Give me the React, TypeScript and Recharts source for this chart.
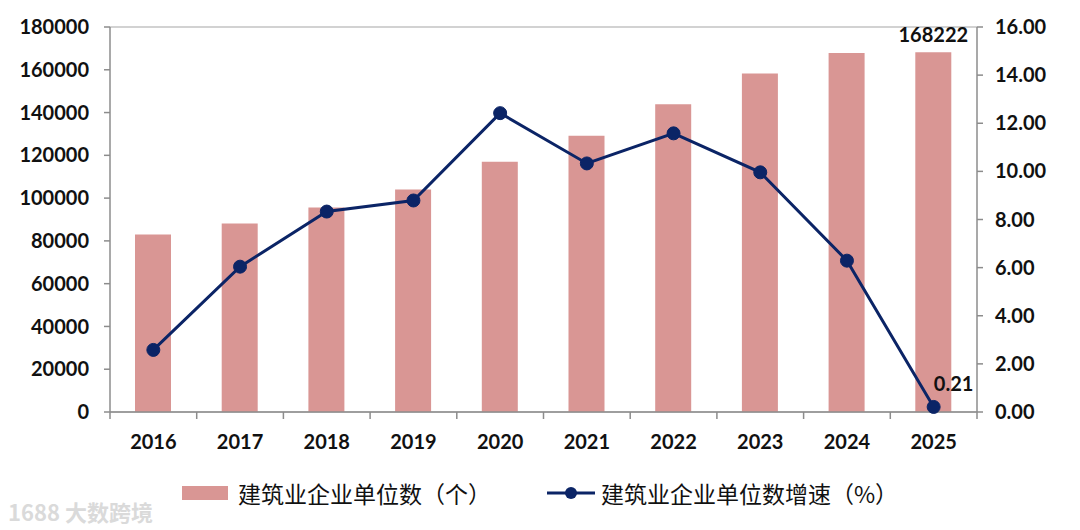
import React from 'react';
import { ComposedChart, Bar, Line, XAxis, YAxis, CartesianGrid, Legend, LabelList } from 'recharts';

const years = ['2016', '2017', '2018', '2019', '2020', '2021', '2022', '2023', '2024', '2025'];
const unitCounts = [83000, 88100, 95600, 104000, 117000, 129100, 143900, 158300, 167870, 168222];
const growthRates = [2.58, 6.04, 8.33, 8.79, 12.42, 10.33, 11.58, 9.96, 6.29, 0.21];
const leftTicks = [0, 20000, 40000, 60000, 80000, 100000, 120000, 140000, 160000, 180000];
const rightTicks = [0, 2, 4, 6, 8, 10, 12, 14, 16];

const barName = '建筑业企业单位数（个）';
const lineName = '建筑业企业单位数增速（%）';

const BAR_COLOR = '#D99694';
const LINE_COLOR = '#0B2466';
const AXIS_COLOR = '#8C8C8C';
const TICK_FONT = 'Lato, Carlito, Calibri, sans-serif';

const data = years.map((year, i) => ({
  year,
  count: unitCounts[i],
  rate: growthRates[i],
}));

const XTick = (props: any) => {
  const { x, y, payload, index } = props;
  const half = 867 / years.length / 2;
  return (
    <g>
      <line x1={x - half} y1={y - 8} x2={x - half} y2={y - 1} stroke={AXIS_COLOR} strokeWidth={1.5} />
      {index === years.length - 1 && (
        <line x1={x + half} y1={y - 8} x2={x + half} y2={y - 1} stroke={AXIS_COLOR} strokeWidth={1.5} />
      )}
      <text x={x} y={y + 29} textAnchor="middle" fill="#111" fontSize={20} fontWeight={700} fontFamily={TICK_FONT}>
        {payload.value}
      </text>
    </g>
  );
};

const LastLabel = (props: any) => {
  const { x, y, width, value, index, kind } = props;
  if (index !== years.length - 1) return null;
  if (kind === 'bar') {
    return (
      <text x={x + width / 2} y={y - 10} textAnchor="middle" fill="#111" fontSize={20} fontWeight={700} fontFamily={TICK_FONT}>
        {value}
      </text>
    );
  }
  return (
    <text x={x + 20} y={y - 16} textAnchor="middle" fill="#111" fontSize={20} fontWeight={700} fontFamily={TICK_FONT}>
      {Number(value).toFixed(2)}
    </text>
  );
};

const LegendContent = () => (
  <div style={{ display: 'flex', justifyContent: 'center', alignItems: 'center', gap: 56, fontFamily: '"Noto Sans CJK SC", sans-serif', fontSize: 23, color: '#111', paddingLeft: 0 }}>
    <div style={{ display: 'flex', alignItems: 'center' }}>
      <svg width={48} height={16} style={{ marginRight: 8 }}>
        <rect x={0} y={1} width={46} height={14} fill={BAR_COLOR} />
      </svg>
      <span>{barName}</span>
    </div>
    <div style={{ display: 'flex', alignItems: 'center' }}>
      <svg width={48} height={16} style={{ marginRight: 6 }}>
        <line x1={0} y1={8} x2={48} y2={8} stroke={LINE_COLOR} strokeWidth={3} />
        <circle cx={24} cy={8} r={6} fill={LINE_COLOR} />
      </svg>
      <span>{lineName}</span>
    </div>
  </div>
);

export default function App() {
  return (
    <div style={{ position: 'absolute', left: 0, top: 0, width: 1080, height: 530, background: '#fff' }}>
      <ComposedChart width={1080} height={530} data={data} margin={{ top: 27, right: 0, bottom: 44, left: 0 }}>
        <CartesianGrid vertical={false} stroke="#A6A6A6" strokeWidth={1.2} />
        <XAxis
          dataKey="year"
          height={40}
          axisLine={{ stroke: AXIS_COLOR, strokeWidth: 1.5 }}
          tickLine={false}
          tick={<XTick />}
          interval={0}
        />
        <YAxis
          yAxisId="left"
          width={110}
          domain={[0, 180000]}
          ticks={leftTicks}
          axisLine={{ stroke: AXIS_COLOR, strokeWidth: 1.5 }}
          tickLine={{ stroke: AXIS_COLOR, strokeWidth: 1.5 }}
          tickSize={6}
          tickMargin={15}
          tick={{ fill: '#111', fontSize: 20, fontWeight: 700, fontFamily: TICK_FONT }}
        />
        <YAxis
          yAxisId="right"
          orientation="right"
          width={103}
          domain={[0, 16]}
          ticks={rightTicks}
          tickFormatter={(v: number) => v.toFixed(2)}
          axisLine={{ stroke: AXIS_COLOR, strokeWidth: 1.5 }}
          tickLine={{ stroke: AXIS_COLOR, strokeWidth: 1.5 }}
          tickSize={6}
          tickMargin={12}
          tick={{ fill: '#111', fontSize: 20, fontWeight: 700, fontFamily: TICK_FONT }}
        />
        <Legend
          verticalAlign="bottom"
          content={<LegendContent />}
          wrapperStyle={{ position: 'absolute', top: 476, left: 0, width: 1080 }}
        />
        <Bar yAxisId="left" dataKey="count" name={barName} fill={BAR_COLOR} barSize={36} isAnimationActive={false}>
          <LabelList dataKey="count" content={(p: any) => <LastLabel {...p} kind="bar" />} />
        </Bar>
        <Line
          yAxisId="right"
          dataKey="rate"
          name={lineName}
          stroke={LINE_COLOR}
          strokeWidth={3}
          dot={{ r: 6.5, fill: LINE_COLOR, stroke: LINE_COLOR, strokeWidth: 1 }}
          activeDot={false}
          isAnimationActive={false}
        >
          <LabelList dataKey="rate" content={(p: any) => <LastLabel {...p} kind="line" />} />
        </Line>
        <text x={8} y={521} fill="#DADADA" fontSize={22} fontWeight={700} fontFamily='"Noto Sans CJK SC", sans-serif'>
          1688 大数跨境
        </text>
      </ComposedChart>
    </div>
  );
}
